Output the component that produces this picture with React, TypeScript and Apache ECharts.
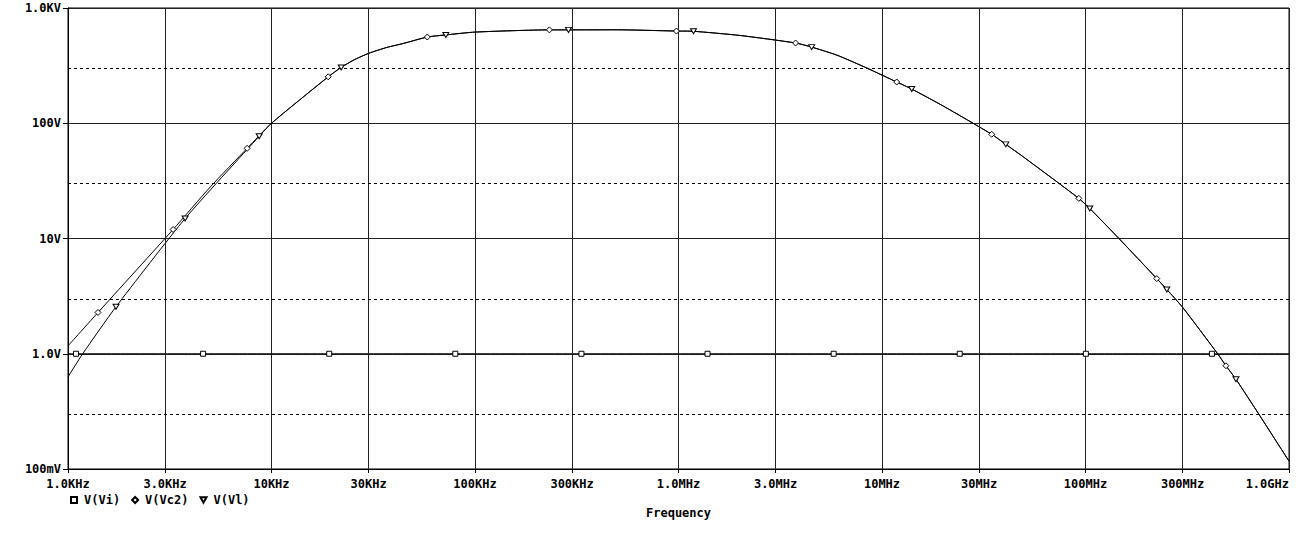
import React, { useEffect, useRef } from 'react';
import * as echarts from 'echarts';

// tick labels
const xTicks = [1e3, 3e3, 1e4, 3e4, 1e5, 3e5, 1e6, 3e6, 1e7, 3e7, 1e8, 3e8, 1e9];
const xTickLabels = ['1.0KHz', '3.0KHz', '10KHz', '30KHz', '100KHz', '300KHz', '1.0MHz', '3.0MHz', '10MHz', '30MHz', '100MHz', '300MHz', '1.0GHz'];
const yTicks = [0.1, 1, 10, 100, 1000];
const yTickLabels = ['100mV', '1.0V', '10V', '100V', '1.0KV'];
const yDashed = [0.3, 3, 30, 300];
const xThirds = [3e3, 3e4, 3e5, 3e6, 3e7, 3e8];

// V(Vi)
const viFreq = [1000, 1095, 4613, 19214, 80035, 333400, 1389000, 5787000, 24100000, 100400000, 418000000, 1000000000];
const viVolt = [1, 1, 1, 1, 1, 1, 1, 1, 1, 1, 1, 1];
const viMarkers = [1095, 4613, 19214, 80035, 333400, 1389000, 5787000, 24100000, 100400000, 418000000];

// above ~10KHz both outputs lie on one curve
const commonFreq = [10000, 19000, 22000, 25300, 30000, 36900, 44600, 58300, 71900, 100000, 232000, 288000, 500000, 977000, 1185000, 2000000, 3762000, 4510000, 6000000, 8470000, 11810000, 14000000, 20000000, 34600000, 40600000, 50000000, 92700000, 105000000, 146000000, 224000000, 251000000, 300000000, 446000000, 490000000, 549000000, 710000000, 1000000000];
const commonVolt = [100, 253, 305, 353, 404, 455, 493, 560, 584, 618, 646, 646, 647, 631, 628, 578, 497, 458, 390, 300, 228, 198, 141, 80.2, 65.6, 50.4, 22.3, 18.2, 10, 4.49, 3.61, 2.53, 1.0, 0.787, 0.6, 0.3, 0.117];

// V(Vc2) below 10KHz
const vc2LowFreq = [1000, 1404, 3284, 5000, 7592];
const vc2LowVolt = [1.17, 2.28, 11.97, 28, 60.6];
const vc2Markers = [1404, 3284, 7592, 19000, 58300, 232000, 977000, 3762000, 11810000, 34600000, 92700000, 224000000, 490000000];

// V(Vl) below 10KHz
const vlLowFreq = [1000, 1181, 1722, 3762, 8700];
const vlLowVolt = [0.63, 1.0, 2.56, 14.9, 77.1];
const vlMarkers = [1722, 3762, 8700, 22000, 71900, 288000, 1185000, 4510000, 14000000, 40600000, 105000000, 251000000, 549000000];

const TRI_DOWN = 'path://M0,0L10,0L5,9Z';
const FONT = 'DejaVu Sans Mono';

const buildData = (freq: number[], volt: number[], markers: number[]) =>
    freq.map((f, i) => ({
        value: [f, volt[i]],
        symbol: markers.includes(f) ? undefined : 'none',
    }));

const App: React.FC = () => {
    const chartRef = useRef<HTMLDivElement>(null);

    useEffect(() => {
        if (!chartRef.current) return;
        const chart = echarts.init(chartRef.current, undefined, { renderer: 'svg' });

        const seriesBase = {
            type: 'line' as const,
            smooth: 0.2,
            symbolSize: 5,
            lineStyle: { color: '#000', width: 1 },
            itemStyle: { color: '#fff', borderColor: '#000', borderWidth: 1 },
            emphasis: { disabled: true },
        };
        const labelFont = { fontFamily: FONT, fontWeight: 'bold' as const, fontSize: 12, color: '#000' };

        const option: echarts.EChartsOption = {
            animation: false,
            backgroundColor: '#fff',
            textStyle: labelFont,
            grid: {
                left: 68, right: 11, top: 8, bottom: 67,
                outerBoundsMode: 'none',
                show: true, borderColor: '#000', borderWidth: 1, backgroundColor: 'transparent',
            } as any,
            legend: {
                left: 65,
                top: 489,
                itemWidth: 6,
                itemHeight: 6,
                itemGap: 11,
                textStyle: { ...labelFont, padding: [0, 0, 0, 2] },
                data: [
                    { name: 'V(Vi)', icon: 'rect' },
                    { name: 'V(Vc2)', icon: 'diamond' },
                    { name: 'V(Vl)', icon: TRI_DOWN },
                ],
            },
            xAxis: {
                type: 'log',
                logBase: 10,
                min: 1e3,
                max: 1e9,
                name: 'Frequency',
                nameLocation: 'middle',
                nameGap: 38,
                nameTextStyle: labelFont,
                axisLine: { lineStyle: { color: '#000' } },
                axisTick: { show: true, length: 4, customValues: xTicks, lineStyle: { color: '#000' } },
                axisLabel: {
                    customValues: xTicks,
                    margin: 9,
                    alignMaxLabel: 'right',
                    ...labelFont,
                    formatter: (v: number) => {
                        const i = xTicks.findIndex((t) => Math.abs(t - v) / t < 1e-6);
                        return i >= 0 ? xTickLabels[i] : '';
                    },
                },
                splitLine: { show: true, lineStyle: { color: '#222', width: 1 } },
            } as any,
            yAxis: {
                type: 'log',
                logBase: 10,
                min: 0.1,
                max: 1000,
                axisLine: { lineStyle: { color: '#000' } },
                axisTick: { show: true, length: 5, customValues: yTicks, lineStyle: { color: '#000' } },
                axisLabel: {
                    customValues: yTicks,
                    margin: 7,
                    ...labelFont,
                    formatter: (v: number) => {
                        const i = yTicks.findIndex((t) => Math.abs(t - v) / t < 1e-6);
                        return i >= 0 ? yTickLabels[i] : '';
                    },
                },
                splitLine: { show: true, lineStyle: { color: '#222', width: 1 } },
            } as any,
            series: [
                {
                    ...seriesBase,
                    name: 'V(Vi)',
                    symbol: 'rect',
                    data: buildData(viFreq, viVolt, viMarkers),
                    markLine: {
                        silent: true,
                        symbol: 'none',
                        label: { show: false },
                        data: [
                            ...xThirds.map((x) => ({ xAxis: x, lineStyle: { color: '#222', width: 1, type: 'solid' as const } })),
                            ...yDashed.map((y) => ({ yAxis: y, lineStyle: { color: '#000', width: 1, type: [3, 3] } })),
                        ],
                    },
                },
                {
                    ...seriesBase,
                    name: 'V(Vc2)',
                    symbol: 'diamond',
                    symbolSize: 6,
                    data: buildData([...vc2LowFreq, ...commonFreq], [...vc2LowVolt, ...commonVolt], vc2Markers),
                },
                {
                    ...seriesBase,
                    name: 'V(Vl)',
                    symbol: TRI_DOWN,
                    symbolSize: [6, 5],
                    data: buildData([...vlLowFreq, ...commonFreq], [...vlLowVolt, ...commonVolt], vlMarkers),
                },
            ],
        };

        chart.setOption(option);
        return () => {
            chart.dispose();
        };
    }, []);

    return (
        <div
            ref={chartRef}
            style={{ position: 'fixed', left: 0, top: 0, width: '1300px', height: '536px' }}
        />
    );
};

export default App;
